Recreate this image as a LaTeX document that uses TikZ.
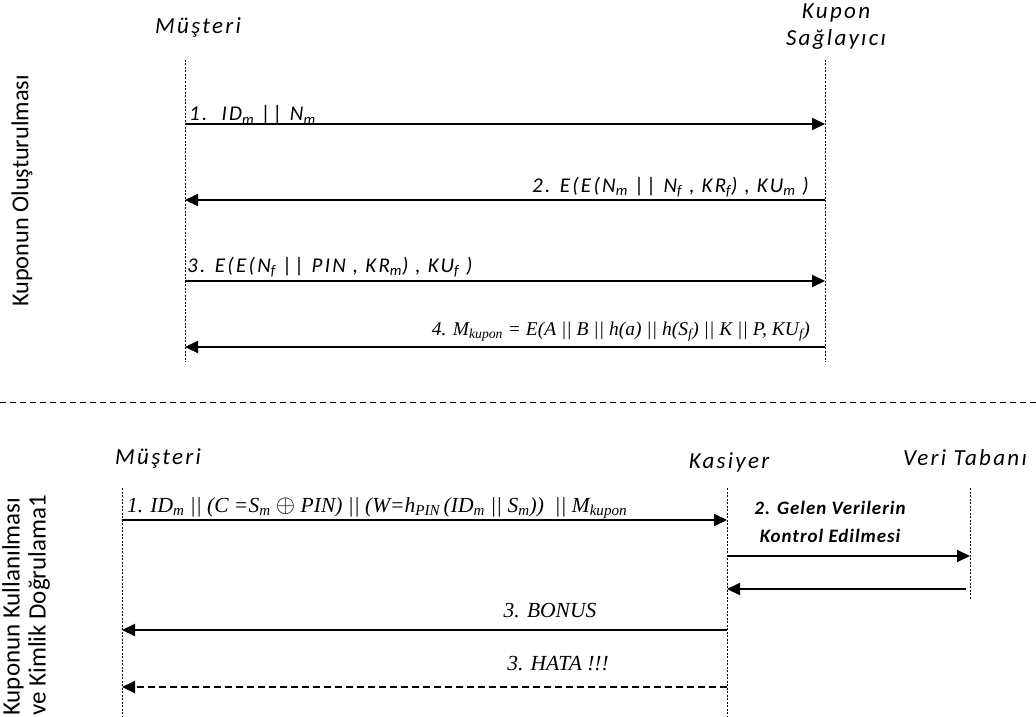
\documentclass[tikz,border=0pt]{standalone}
\usepackage{fontspec}
\setmainfont{Liberation Serif}
\newfontfamily\calfont{Carlito}
\newfontfamily\hdrfont{Carlito}[LetterSpace=10]
\newfontfamily\labfont{Carlito}[LetterSpace=11]
\newfontfamily\boldlabfont{Carlito}[LetterSpace=5]
\usetikzlibrary{arrows.meta}

\begin{document}
\begin{tikzpicture}[x=1pt,y=-1pt,
  actor/.style={font=\hdrfont\itshape\fontsize{23}{27}\selectfont, inner sep=0pt, align=center},
  side/.style={font=\calfont\fontsize{24.3}{27}\selectfont, rotate=90, inner sep=0pt},
  life/.style={line width=1pt, dash pattern=on 2pt off 1.5pt},
  msg/.style={line width=2pt, -{Triangle[length=13pt,width=12pt]}},
  msgdash/.style={msg, dash pattern=on 7pt off 4pt},
  clab/.style={font=\labfont\itshape\fontsize{21}{24}\selectfont, inner sep=0pt},
  tlab/.style={font=\itshape\fontsize{19.5}{22}\selectfont, inner sep=0pt},
  tlabb/.style={font=\itshape\fontsize{21.5}{24}\selectfont, inner sep=0pt},
  sep/.style={line width=1pt, dash pattern=on 6pt off 4pt}]
\useasboundingbox (0,0) rectangle (1036,717);

% ---------- section 1: coupon creation ----------
\node[actor] (cust1) at (198,27) {Müşteri};
\node[actor] (prov) at (836,27) {Kupon\\ Sağlayıcı};
\node[side] (sec1) at (22,191) {Kuponun Oluşturulması};

\coordinate (c1top) at (185,60);   \coordinate (c1bot) at (185,362);
\coordinate (p1top) at (825,60);   \coordinate (p1bot) at (825,362);
\draw[life] (c1top) -- (c1bot);
\draw[life] (p1top) -- (p1bot);

\coordinate (a1s) at (185,124); \coordinate (a1e) at (825,124);
\coordinate (a2s) at (825,200); \coordinate (a2e) at (185,200);
\coordinate (a3s) at (185,281); \coordinate (a3e) at (825,281);
\coordinate (a4s) at (825,347); \coordinate (a4e) at (185,347);

\draw[msg] (a1s) -- (a1e);
\draw[msg] (a2s) -- (a2e);
\draw[msg] (a3s) -- (a3e);
\draw[msg] (a4s) -- (a4e);

\node[clab, anchor=base west] (l1) at (189,121)
  {1.~~ID\textsubscript{m} || N\textsubscript{m}};
\node[clab, anchor=base east] (l2) at (809,192)
  {2. E(E(N\textsubscript{m} || N\textsubscript{f} , KR\textsubscript{f}) , KU\textsubscript{m} )};
\node[clab, anchor=base west] (l3) at (187,272)
  {3. E(E(N\textsubscript{f} || PIN , KR\textsubscript{m}) , KU\textsubscript{f} )};
\node[tlab, anchor=base east] (l4) at (810,335)
  {4. M\textsubscript{kupon} = E(A || B || h(a) || h(S\textsubscript{f}) || K || P, KU\textsubscript{f})};

% ---------- separator ----------
\coordinate (sepL) at (0,402); \coordinate (sepR) at (1036,402);
\draw[sep] (sepL) -- (sepR);

% ---------- section 2: coupon use and identity verification ----------
\node[actor] (cust2) at (158,458) {Müşteri};
\node[actor] (cash) at (729,462) {Kasiyer};
\node[actor] (db) at (965,458) {Veri Tabanı};
\node[side, font=\calfont\fontsize{25}{26}\selectfont, anchor=north west, align=left] (sec2) at (2,716)
  {Kuponun Kullanılması\\ve Kimlik Doğrulama1};

\coordinate (c2top) at (122,488); \coordinate (c2bot) at (122,717);
\coordinate (k2top) at (727,488); \coordinate (k2bot) at (727,717);
\coordinate (d2top) at (970,488); \coordinate (d2bot) at (970,600);
\draw[life] (c2top) -- (c2bot);
\draw[life] (k2top) -- (k2bot);
\draw[life] (d2top) -- (d2bot);

\coordinate (b1s) at (122,520); \coordinate (b1e) at (727,520);
\coordinate (b2s) at (727,556); \coordinate (b2e) at (970,556);
\coordinate (b3s) at (966,589); \coordinate (b3e) at (727,589);
\coordinate (b4s) at (727,630); \coordinate (b4e) at (122,630);
\coordinate (b5s) at (727,687); \coordinate (b5e) at (122,687);

\draw[msg] (b1s) -- (b1e);
\draw[msg] (b2s) -- (b2e);
\draw[msg] (b3s) -- (b3e);
\draw[msg] (b4s) -- (b4e);
\draw[msgdash] (b5s) -- (b5e);

\node[tlabb, anchor=base west] (m1) at (127,512)
  {1. ID\textsubscript{m} || (C =S\textsubscript{m} {\fontsize{25}{25}\selectfont$\oplus$} PIN) || (W=h\textsubscript{PIN}\,(ID\textsubscript{m} || S\textsubscript{m}))~~|| M\textsubscript{kupon}};
\node[font=\boldlabfont\bfseries\itshape\fontsize{19}{28}\selectfont, align=center, inner sep=0pt] (m2) at (830,522)
  {2. Gelen Verilerin\\Kontrol Edilmesi};
\node[tlabb, anchor=base] (m4) at (550,617) {3. BONUS};
\node[tlabb, anchor=base] (m5) at (558,670) {3. HATA !!!};
\end{tikzpicture}
\end{document}
